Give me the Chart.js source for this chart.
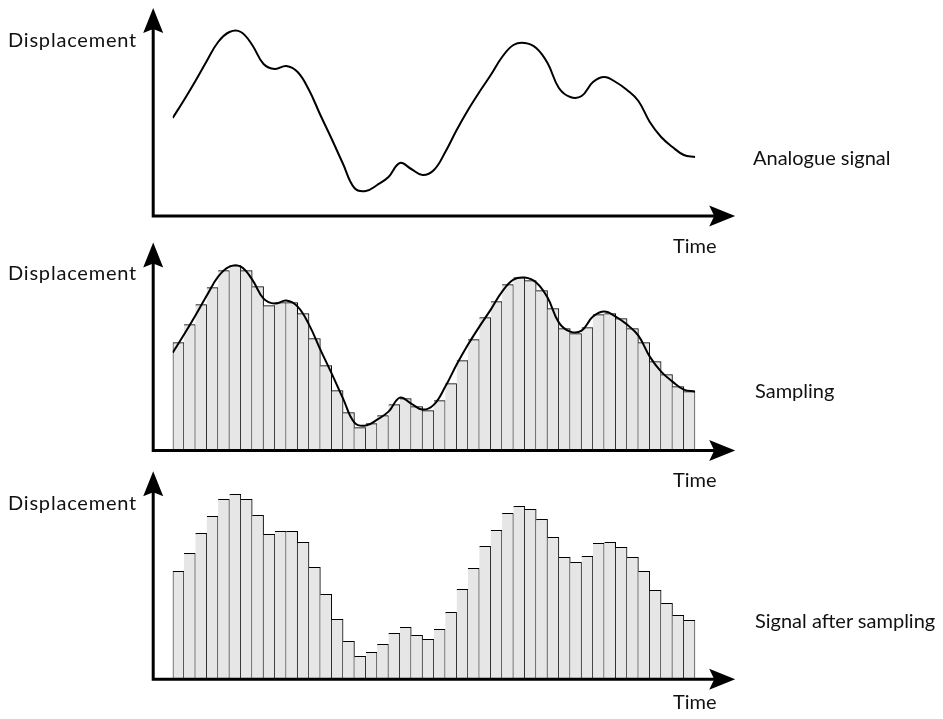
<!DOCTYPE html>
<html>
<head>
<meta charset="utf-8">
<script src="https://cdn.jsdelivr.net/npm/chart.js@4.4.1/dist/chart.umd.min.js"></script>
<style>
  body { margin: 0; background: #fff; }
  #wrap { position: relative; width: 943px; height: 719px; font-family: Lato, sans-serif; color: #111; }
  canvas { position: absolute; left: 0; }
  .lbl { position: absolute; font-size: 20px; line-height: 1; white-space: nowrap; transform: translateY(-50%); }
  .ylbl { letter-spacing: 0.8px; }
</style>
</head>
<body>
<div id="wrap">
  <canvas id="analogue" width="943" height="235" style="top:0px"></canvas>
  <canvas id="sampling" width="943" height="230" style="top:235px"></canvas>
  <canvas id="after" width="943" height="254" style="top:465px"></canvas>

  <div class="lbl ylbl" style="left:8px;top:39px">Displacement</div>
  <div class="lbl" style="left:673px;top:245px">Time</div>
  <div class="lbl" style="left:753px;top:157px">Analogue signal</div>

  <div class="lbl ylbl" style="left:8px;top:272px">Displacement</div>
  <div class="lbl" style="left:673px;top:479px">Time</div>
  <div class="lbl" style="left:755px;top:390px">Sampling</div>

  <div class="lbl ylbl" style="left:8px;top:502px">Displacement</div>
  <div class="lbl" style="left:673px;top:701px">Time</div>
  <div class="lbl" style="left:755px;top:620px">Signal after sampling</div>
</div>

<script>
// sample heights (one per bar)
let sampleValues = [108,126,146,163,180,185,180,164,145,148,148,137,112,85,60,38,23,27,35,46,52,44,40,50,
                    67,90,111,133,149,166,173,170,160,142,122,117,123,136,137,132,122,108,89,76,64,59];
// the analogue curve, read at every bar edge (0..46)
let curveValues = [98,116,135,155,174,184,184,171,152,147,150,144,126,101,77,52,28,25,31,39,53,47,41,46,
                   64,86,106,124,141,159,171,173,168,153,128,119,120,134,139,134,126,115,94,79,69,61,59];
let sampleLabels = sampleValues.map((v, i) => 's' + (i + 1));

// axis lines with arrow heads
let arrowAxes = {
    id: 'arrowAxes',
    afterDatasetsDraw(chart) {
        let ctx = chart.ctx;
        let area = chart.chartArea;
        let y0 = chart.scales.y.getPixelForValue(0);
        let x0 = area.left - 19.5;
        let topY = y0 - 208;
        let rightX = area.right + 40;

        ctx.save();
        ctx.strokeStyle = '#000';
        ctx.fillStyle = '#000';
        ctx.lineWidth = 3;
        ctx.lineJoin = 'miter';
        ctx.beginPath();
        ctx.moveTo(x0, topY + 20);
        ctx.lineTo(x0, y0);
        ctx.lineTo(rightX - 20, y0);
        ctx.stroke();

        ctx.beginPath();
        ctx.moveTo(x0, topY);
        ctx.lineTo(x0 - 10, topY + 25);
        ctx.lineTo(x0, topY + 21);
        ctx.lineTo(x0 + 10, topY + 25);
        ctx.closePath();
        ctx.fill();

        ctx.beginPath();
        ctx.moveTo(rightX, y0);
        ctx.lineTo(rightX - 26, y0 - 10.5);
        ctx.lineTo(rightX - 21, y0);
        ctx.lineTo(rightX - 26, y0 + 10.5);
        ctx.closePath();
        ctx.fill();
        ctx.restore();
    }
};

function makePanel(id, baseline, showBars, showCurve) {
    let canvas = document.getElementById(id);
    let datasets = [];
    if (showCurve) {
        datasets.push({
            type: 'line',
            data: curveValues.map((v, i) => ({x: i, y: v})),
            xAxisID: 'x2',
            borderColor: '#000',
            borderWidth: 2,
            pointRadius: 0,
            tension: 0.4,
            fill: false,
            order: 0
        });
    }
    if (showBars) {
        datasets.push({
            type: 'bar',
            data: sampleValues,
            backgroundColor: '#e6e6e6',
            borderColor: '#000',
            borderWidth: c => c.dataIndex === 0 ? {top: 1, right: 1, left: 1, bottom: 0} : {top: 1, right: 1, left: 0, bottom: 0},
            borderSkipped: false,
            grouped: false,
            barPercentage: 1,
            categoryPercentage: 1,
            order: 1
        });
    }
    return new Chart(canvas, {
        type: 'bar',
        data: { labels: sampleLabels, datasets: datasets },
        options: {
            responsive: false,
            animation: false,
            layout: { padding: { left: 172.7, right: 943 - 695.2, top: baseline - 200, bottom: canvas.height - baseline } },
            plugins: { legend: { display: false }, tooltip: { enabled: false } },
            scales: {
                x: { type: 'category', display: false, offset: true },
                x2: { type: 'linear', display: false, offset: false, min: 0, max: 46 },
                y: { display: false, min: 0, max: 200 }
            }
        },
        plugins: [arrowAxes]
    });
}

makePanel('analogue', 216, false, true);
makePanel('sampling', 215.6, true, true);
makePanel('after', 214.3, true, false);
</script>
</body>
</html>
